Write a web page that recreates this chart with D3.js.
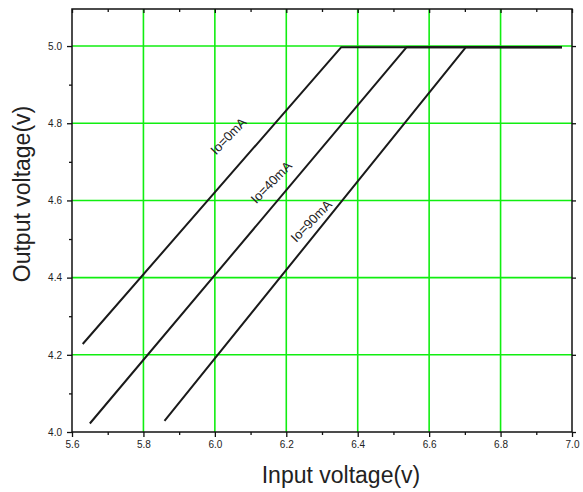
<!DOCTYPE html>
<html><head><meta charset="utf-8">
<script src="https://cdn.jsdelivr.net/npm/d3@7"></script>
<style>body{margin:0;background:#fff;} svg{display:block;font-family:Arial,"Liberation Sans",sans-serif;}</style>
</head><body><svg id="c" width="583" height="492"></svg>
<script>
const xTicks = [5.6, 5.8, 6.0, 6.2, 6.4, 6.6, 6.8, 7.0];
const yTicks = [4.0, 4.2, 4.4, 4.6, 4.8, 5.0];
const xMinor = [5.7, 5.9, 6.1, 6.3, 6.5, 6.7, 6.9];
const yMinor = [4.1, 4.3, 4.5, 4.7, 4.9];
const seriesNames = ["Io=0mA", "Io=40mA", "Io=90mA"];
const vin0  = [5.63, 6.354, 6.972];
const vout0 = [4.228, 4.997, 4.997];
const vin40  = [5.65, 6.537, 6.972];
const vout40 = [4.022, 4.997, 4.997];
const vin90  = [5.859, 6.703, 6.972];
const vout90 = [4.029, 4.997, 4.997];
// label anchor positions (data coords)
const labelX = [6.04, 6.16, 6.272];
const labelY = [4.765, 4.645, 4.545];

const svg = d3.select("#c");
const L = 72, R = 572, T = 9, B = 432;
const x = d3.scaleLinear().domain([5.6, 7.0]).range([L, R]);
const y = d3.scaleLinear().domain([4.0, 5.096]).range([B, T]);

// grid
const g = svg.append("g");
g.selectAll(".gx").data(xTicks.slice(1, -1)).join("line")
  .attr("x1", d => x(d)).attr("x2", d => x(d)).attr("y1", T).attr("y2", B)
  .attr("stroke", "#10ee10").attr("stroke-width", 1.6);
g.selectAll(".gy").data(yTicks.slice(1)).join("line")
  .attr("x1", L).attr("x2", R).attr("y1", d => y(d)).attr("y2", d => y(d))
  .attr("stroke", "#10ee10").attr("stroke-width", 1.6);

// data lines
const series = [
  {name: seriesNames[0], xs: vin0, ys: vout0},
  {name: seriesNames[1], xs: vin40, ys: vout40},
  {name: seriesNames[2], xs: vin90, ys: vout90}
];
const line = d3.line().x(d => x(d[0])).y(d => y(d[1]));
series.forEach(s => {
  svg.append("path").datum(s.xs.map((v, i) => [v, s.ys[i]]))
    .attr("d", line).attr("fill", "none").attr("stroke", "#1a1a1a")
    .attr("stroke-width", 2).attr("stroke-linejoin", "round");
});

// labels
series.forEach((s, i) => {
  svg.append("text").attr("transform", `translate(${x(labelX[i])},${y(labelY[i])}) rotate(-46)`)
    .attr("text-anchor", "middle").attr("dominant-baseline", "middle")
    .attr("font-size", 13).attr("fill", "#222").text(s.name);
});

// axes
const ax = svg.append("g").attr("stroke", "#111").attr("stroke-width", 1.5);
ax.append("rect").attr("x", L).attr("y", T).attr("width", R - L).attr("height", B - T).attr("fill", "none");

svg.append("g").attr("transform", `translate(0,${B})`)
  .call(d3.axisBottom(x).tickValues(xTicks).tickFormat(d3.format(".1f")).tickSize(5).tickPadding(4));
svg.append("g").attr("transform", `translate(0,${B})`)
  .call(d3.axisBottom(x).tickValues(xMinor).tickFormat("").tickSize(3));
svg.append("g").attr("transform", `translate(${L},0)`)
  .call(d3.axisLeft(y).tickValues(yTicks).tickFormat(d3.format(".1f")).tickSize(5).tickPadding(5));
svg.append("g").attr("transform", `translate(${L},0)`)
  .call(d3.axisLeft(y).tickValues(yMinor).tickFormat("").tickSize(3));
// top ticks (inward)
svg.append("g").attr("transform", `translate(0,${T})`)
  .call(d3.axisBottom(x).tickValues(xTicks).tickFormat("").tickSize(4));
svg.append("g").attr("transform", `translate(0,${T})`)
  .call(d3.axisBottom(x).tickValues(xMinor).tickFormat("").tickSize(3));
// right ticks (outward)
svg.append("g").attr("transform", `translate(${R},0)`)
  .call(d3.axisRight(y).tickValues(yTicks).tickFormat("").tickSize(4));
svg.selectAll(".domain").remove();
svg.selectAll(".tick line").attr("stroke", "#111").attr("stroke-width", 1.3);
svg.selectAll(".tick text").attr("font-size", 10).attr("fill", "#222").attr("font-family", "Arial, 'Liberation Sans', sans-serif");

// axis titles
svg.append("text").attr("x", 341).attr("y", 483).attr("text-anchor", "middle")
  .attr("font-size", 23).attr("fill", "#222").text("Input voltage(v)");
svg.append("text").attr("transform", "translate(30,194) rotate(-90)").attr("text-anchor", "middle")
  .attr("font-size", 23).attr("fill", "#222").text("Output voltage(v)");
</script></body></html>
